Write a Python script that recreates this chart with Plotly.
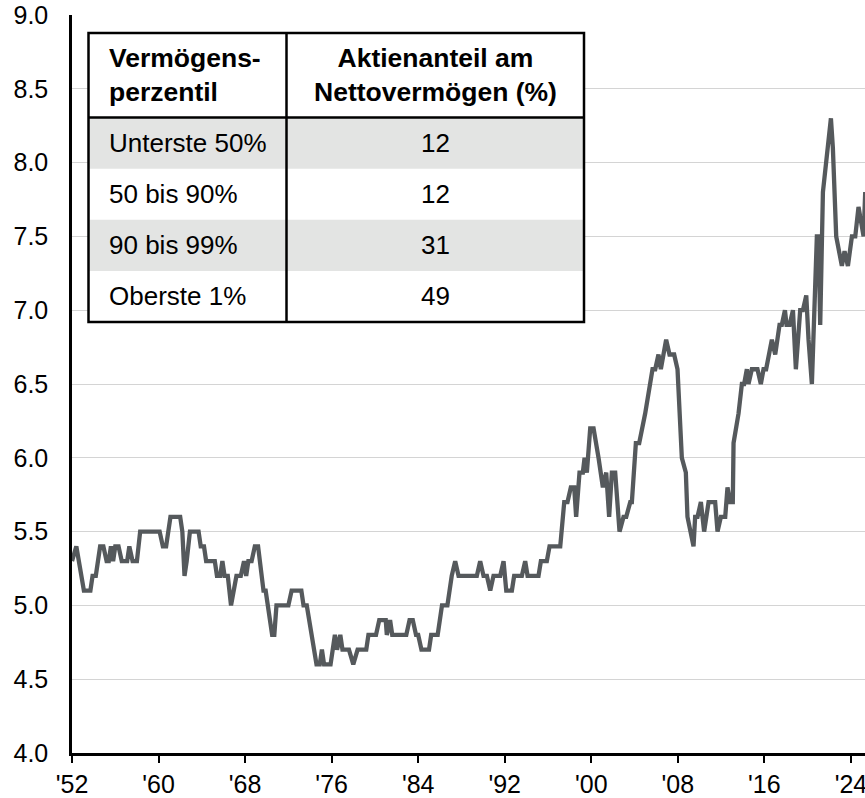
import plotly.graph_objects as go

# ---------------- data ----------------
years = [
    1952.0, 1952.4, 1953.1, 1953.7, 1953.9, 1954.2, 1954.6, 1954.9, 1955.2, 1955.4,
    1955.6, 1955.8, 1956.0, 1956.3, 1956.6, 1957.1, 1957.3, 1957.6, 1958.0, 1958.3,
    1960.1, 1960.4, 1960.7, 1961.1, 1962.0, 1962.2, 1962.4, 1962.6, 1962.9, 1963.7,
    1963.9, 1964.2, 1964.4, 1965.2, 1965.4, 1965.7, 1965.9, 1966.1, 1966.4, 1966.7,
    1967.2, 1967.6, 1967.9, 1968.1, 1968.3, 1968.6, 1968.9, 1969.2, 1969.7, 1969.9,
    1970.5, 1970.7, 1970.9, 1972.0, 1972.3, 1973.2, 1973.4, 1973.7, 1974.6, 1974.9,
    1975.1, 1975.3, 1975.9, 1976.3, 1976.5, 1976.8, 1977.0, 1977.6, 1978.0, 1978.4,
    1979.2, 1979.4, 1980.1, 1980.4, 1981.0, 1981.1, 1981.4, 1981.6, 1982.9, 1983.2,
    1983.5, 1983.8, 1984.0, 1984.3, 1985.0, 1985.2, 1985.8, 1986.2, 1986.7, 1987.1,
    1987.42, 1987.73, 1989.42, 1989.73, 1990.04, 1990.35, 1990.66, 1990.96, 1991.58, 1991.89,
    1992.14, 1992.66, 1992.87, 1993.58, 1993.89, 1994.11, 1995.12, 1995.34, 1995.89, 1996.14,
    1997.13, 1997.50, 1997.80, 1998.11, 1998.42, 1998.60, 1998.91, 1999.22, 1999.38, 1999.59,
    1999.90, 2000.21, 2000.67, 2001.07, 2001.38, 2001.65, 2001.90, 2002.21, 2002.61, 2002.98,
    2003.23, 2003.60, 2003.75, 2004.12, 2004.43, 2004.98, 2005.66, 2005.91, 2006.21, 2006.43,
    2006.92, 2007.23, 2007.66, 2007.97, 2008.37, 2008.74, 2008.89, 2009.45, 2009.60, 2009.82,
    2010.13, 2010.43, 2010.84, 2011.45, 2011.67, 2011.98, 2012.38, 2012.59, 2012.84, 2013.08,
    2013.15, 2013.61, 2013.92, 2014.13, 2014.38, 2014.53, 2014.84, 2015.36, 2015.67, 2015.92,
    2016.16, 2016.69, 2017.00, 2017.40, 2017.61, 2017.90, 2018.05, 2018.33, 2018.64, 2018.91,
    2019.31, 2019.56, 2019.87, 2020.08, 2020.39, 2020.85, 2021.01, 2021.16, 2021.41, 2021.72,
    2022.15, 2022.33, 2022.64, 2023.16, 2023.41, 2023.72, 2024.09, 2024.40, 2024.70, 2025.17,
    2025.32,
]
share = [
    5.3, 5.4, 5.1, 5.1, 5.2, 5.2, 5.4, 5.4, 5.3, 5.3,
    5.4, 5.3, 5.4, 5.4, 5.3, 5.3, 5.4, 5.3, 5.3, 5.5,
    5.5, 5.4, 5.4, 5.6, 5.6, 5.5, 5.2, 5.3, 5.5, 5.5,
    5.4, 5.4, 5.3, 5.3, 5.2, 5.2, 5.3, 5.2, 5.2, 5.0,
    5.2, 5.2, 5.3, 5.2, 5.3, 5.3, 5.4, 5.4, 5.1, 5.1,
    4.8, 4.8, 5.0, 5.0, 5.1, 5.1, 5.0, 5.0, 4.6, 4.6,
    4.7, 4.6, 4.6, 4.8, 4.7, 4.8, 4.7, 4.7, 4.6, 4.7,
    4.7, 4.8, 4.8, 4.9, 4.9, 4.8, 4.9, 4.8, 4.8, 4.9,
    4.9, 4.8, 4.8, 4.7, 4.7, 4.8, 4.8, 5.0, 5.0, 5.2,
    5.3, 5.2, 5.2, 5.3, 5.2, 5.2, 5.1, 5.2, 5.2, 5.3,
    5.1, 5.1, 5.2, 5.2, 5.3, 5.2, 5.2, 5.3, 5.3, 5.4,
    5.4, 5.7, 5.7, 5.8, 5.8, 5.6, 5.9, 5.9, 6.0, 5.9,
    6.2, 6.2, 6.0, 5.8, 5.9, 5.6, 5.9, 5.9, 5.5, 5.6,
    5.6, 5.7, 5.7, 6.1, 6.1, 6.3, 6.6, 6.6, 6.7, 6.6,
    6.8, 6.7, 6.7, 6.6, 6.0, 5.9, 5.6, 5.4, 5.6, 5.6,
    5.7, 5.5, 5.7, 5.7, 5.5, 5.6, 5.6, 5.8, 5.7, 5.7,
    6.1, 6.3, 6.5, 6.5, 6.6, 6.5, 6.6, 6.6, 6.5, 6.6,
    6.6, 6.8, 6.7, 6.9, 6.9, 7.0, 6.9, 6.9, 7.0, 6.6,
    7.0, 7.0, 7.1, 6.8, 6.5, 7.5, 7.5, 6.9, 7.8, 8.0,
    8.3, 8.1, 7.5, 7.3, 7.4, 7.3, 7.5, 7.5, 7.7, 7.5,
    7.8,
]

tick_years = [1952, 1960, 1968, 1976, 1984, 1992, 2000, 2008, 2016, 2024]
tick_labels = ["'52", "'60", "'68", "'76", "'84", "'92", "'00", "'08", "'16", "'24"]

table_header = ["Vermögens-<br>perzentil", "Aktienanteil am<br>Nettovermögen (%)"]
percentiles = ["Unterste 50%", "50 bis 90%", "90 bis 99%", "Oberste 1%"]
equity_share = [12, 12, 31, 49]

# ---------------- layout geometry ----------------
W, H = 865, 798
ML, MR, MT, MB = 72, 0, 15, 45
PW, PH = W - ML - MR, H - MT - MB
FONT = "Liberation Sans, Arial, sans-serif"


def px_x(px):
    return (px - ML) / PW


def px_y(py):
    return (H - MB - py) / PH


fig = go.Figure()
fig.add_trace(go.Scatter(
    x=years, y=share, mode="lines",
    line=dict(color="#55595c", width=4.3, shape="linear"),
    hoverinfo="x+y", showlegend=False,
))

# ---------------- table overlay ----------------
t_left, t_right, t_div = 88.5, 584, 286.5
t_top, t_head, t_bottom = 33, 117.5, 322
row_h = (t_bottom - t_head) / len(percentiles)

shapes = []
shapes.append(dict(type="rect", xref="paper", yref="paper",
                   x0=px_x(t_left), x1=px_x(t_right), y0=px_y(t_bottom), y1=px_y(t_top),
                   fillcolor="white", line=dict(width=0), layer="above"))
for i in range(len(percentiles)):
    if i % 2 == 0:
        y0 = t_head + i * row_h
        shapes.append(dict(type="rect", xref="paper", yref="paper",
                           x0=px_x(t_left), x1=px_x(t_right),
                           y0=px_y(y0 + row_h), y1=px_y(y0),
                           fillcolor="#e3e4e3", line=dict(width=0), layer="above"))
shapes.append(dict(type="rect", xref="paper", yref="paper",
                   x0=px_x(t_left), x1=px_x(t_right), y0=px_y(t_bottom), y1=px_y(t_top),
                   fillcolor="rgba(0,0,0,0)", line=dict(color="black", width=2.5), layer="above"))
shapes.append(dict(type="line", xref="paper", yref="paper",
                   x0=px_x(t_div), x1=px_x(t_div), y0=px_y(t_bottom), y1=px_y(t_top),
                   line=dict(color="black", width=2.5), layer="above"))
shapes.append(dict(type="line", xref="paper", yref="paper",
                   x0=px_x(t_left), x1=px_x(t_right), y0=px_y(t_head), y1=px_y(t_head),
                   line=dict(color="black", width=2.5), layer="above"))

annotations = []
col1_x = 107
col2_x = (t_div + t_right) / 2
head_y = (t_top + t_head) / 2
annotations.append(dict(xref="paper", yref="paper", x=px_x(col1_x), y=px_y(head_y),
                        xanchor="left", yanchor="middle", align="left", showarrow=False,
                        text="<b>" + table_header[0] + "</b>",
                        font=dict(family=FONT, size=26.5, color="black")))
annotations.append(dict(xref="paper", yref="paper", x=px_x(col2_x), y=px_y(head_y),
                        xanchor="center", yanchor="middle", align="center", showarrow=False,
                        text="<b>" + table_header[1] + "</b>",
                        font=dict(family=FONT, size=26.5, color="black")))
for i, (p, v) in enumerate(zip(percentiles, equity_share)):
    yc = t_head + (i + 0.5) * row_h
    annotations.append(dict(xref="paper", yref="paper", x=px_x(col1_x), y=px_y(yc),
                            xanchor="left", yanchor="middle", showarrow=False, text=p,
                            font=dict(family=FONT, size=26, color="black")))
    annotations.append(dict(xref="paper", yref="paper", x=px_x(col2_x), y=px_y(yc),
                            xanchor="center", yanchor="middle", showarrow=False, text=str(v),
                            font=dict(family=FONT, size=26, color="black")))

fig.update_layout(
    width=W, height=H,
    margin=dict(l=ML, r=MR, t=MT, b=MB, autoexpand=False),
    paper_bgcolor="white", plot_bgcolor="white",
    font=dict(family=FONT, size=25, color="black"),
    shapes=shapes, annotations=annotations,
    showlegend=False,
    xaxis=dict(
        range=[1952, 2025.3], tickmode="array", tickvals=tick_years, ticktext=tick_labels,
        showgrid=False, zeroline=False, showline=True, linecolor="black", linewidth=2.5,
        ticks="outside", ticklen=7, tickwidth=2, tickcolor="black",
        ticklabeloverflow="allow", automargin=False,
        tickfont=dict(family=FONT, size=25, color="black"),
    ),
    yaxis=dict(
        range=[4, 9], dtick=0.5, tick0=4, tickformat=".1f",
        showgrid=True, gridcolor="#d4d4d4", gridwidth=1.2,
        zeroline=False, showline=True, linecolor="black", linewidth=2.5,
        ticks="", ticklabelstandoff=16, automargin=False,
        tickfont=dict(family=FONT, size=25, color="black"),
    ),
)

fig.write_html(
    "out.html",
    config={"displayModeBar": False},
    post_script="document.body.style.margin='0';document.body.style.padding='0';",
)
